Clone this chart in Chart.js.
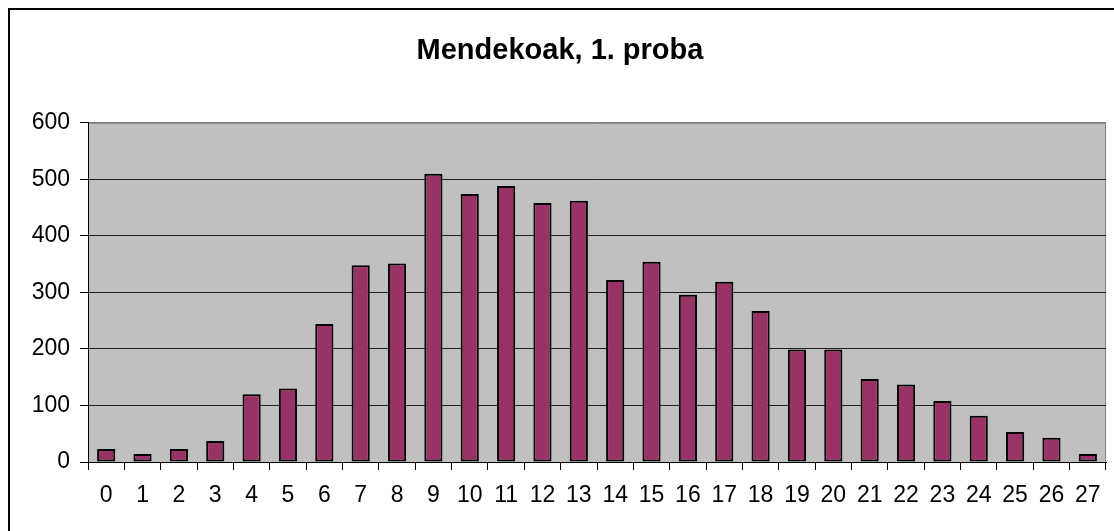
<!DOCTYPE html>
<html>
<head>
<meta charset="utf-8">
<script src="https://cdn.jsdelivr.net/npm/chart.js@4"></script>
<style>
  html, body { margin: 0; padding: 0; background: #fff; overflow: hidden; }
  #frame {
    position: absolute; left: 8px; top: 8px;
    width: 1200px; height: 600px;
    border: 2px solid #000;
  }
  #wrap { position: absolute; left: 0; top: 0; width: 1114px; height: 531px; }
</style>
</head>
<body>
<div id="frame"></div>
<div id="wrap"><canvas id="barChart" width="1114" height="531"></canvas></div>
<script>
// categories on the x axis
const categories = ['0','1','2','3','4','5','6','7','8','9','10','11','12','13',
                    '14','15','16','17','18','19','20','21','22','23','24','25','26','27'];
// bar heights
const counts = [23, 14, 23, 37, 120, 130, 244, 348, 351, 510, 474, 488, 458, 462,
                322, 354, 296, 319, 267, 199, 199, 147, 137, 108, 82, 53, 43, 14];
// y axis range
const yMin = 0;
const yMax = 600;
const yStep = 100;

const chartTitle = 'Mendekoak, 1. proba';
const fontFamily = '"Liberation Sans", Arial, sans-serif';

// grey plot area with a thin grey frame, like the old Excel charts
const plotBackground = {
    id: 'plotBackground',
    beforeDraw(chart) {
        const { ctx, chartArea } = chart;
        ctx.save();
        ctx.fillStyle = '#c0c0c0';
        ctx.fillRect(chartArea.left, chartArea.top, chartArea.width, chartArea.height);
        ctx.strokeStyle = '#808080';
        ctx.lineWidth = 1;
        ctx.strokeRect(chartArea.left + 0.5, chartArea.top + 0.5, chartArea.width - 1, chartArea.height);
        ctx.restore();
    }
};

const ctx = document.getElementById('barChart').getContext('2d');

new Chart(ctx, {
    type: 'bar',
    data: {
        labels: categories,
        datasets: [
            {
                label: 'Mendekoak',
                data: counts,
                backgroundColor: '#993366',
                borderColor: '#000000',
                borderWidth: 2,
                borderSkipped: false,
                barPercentage: 0.5,
                categoryPercentage: 1.0
            }
        ]
    },
    options: {
        responsive: false,
        animation: false,
        layout: {
            padding: { left: 14, right: 8, top: 0, bottom: 0 }
        },
        plugins: {
            legend: { display: false },
            tooltip: { enabled: false },
            title: {
                display: true,
                text: chartTitle,
                color: '#000',
                font: { family: fontFamily, size: 29, weight: 'bold', lineHeight: 1.2 },
                padding: { top: 34, bottom: 54 }
            }
        },
        scales: {
            x: {
                grid: {
                    display: true,
                    drawOnChartArea: false,
                    drawTicks: true,
                    tickLength: 8,
                    color: '#000'
                },
                border: { display: true, color: '#000', width: 1 },
                ticks: {
                    color: '#000',
                    padding: 12,
                    maxRotation: 0,
                    autoSkip: false,
                    font: { family: fontFamily, size: 23 }
                },
                afterFit(scale) { scale.height = 69; }
            },
            y: {
                min: yMin,
                max: yMax,
                grid: {
                    color: ctx => (ctx.tick && ctx.tick.value === yMax ? '#808080' : '#202020'),
                    tickColor: '#000',
                    tickLength: 8,
                    lineWidth: 1
                },
                border: { display: true, color: '#000', width: 1 },
                ticks: {
                    stepSize: yStep,
                    color: '#000',
                    padding: 10,
                    font: { family: fontFamily, size: 23 }
                },
                afterFit(scale) { scale.width = 74; }
            }
        }
    },
    plugins: [plotBackground]
});
</script>
</body>
</html>
